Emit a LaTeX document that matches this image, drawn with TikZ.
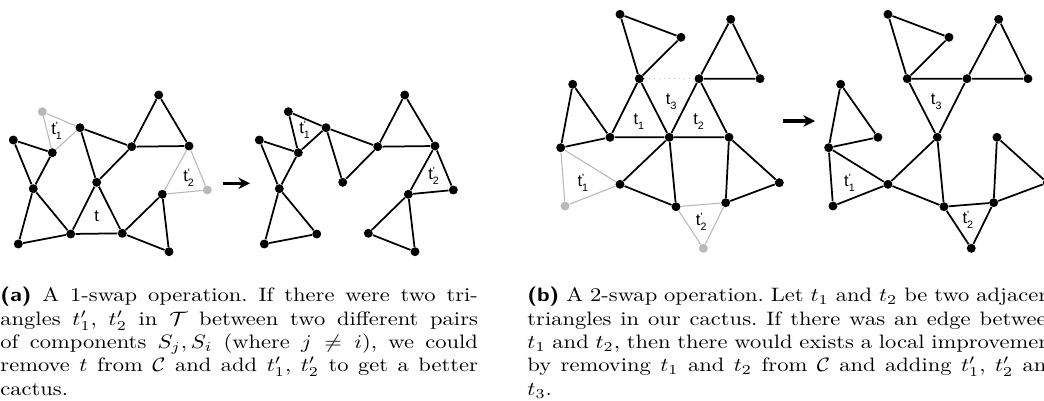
\documentclass[tikz,border=0pt]{standalone}
\usepackage{fontspec}
\newfontfamily\labfont{Liberation Sans}
\usetikzlibrary{arrows.meta}
\tikzset{
  dot/.style={circle, fill=black, inner sep=0pt, minimum size=4.6pt},
  gdot/.style={dot, fill=gray!55},
  edge/.style={line width=0.9pt},
  gedge/.style={line width=0.55pt, gray!55},
  lbl/.style={font=\labfont\fontsize{8.5}{10}\selectfont, inner sep=0pt},
  swap/.style={-{Stealth[length=6pt,width=6pt]}, line width=1.6pt},
  capt/.style={anchor=north west, inner sep=0pt, align=justify, xscale=1.16, transform shape}
}
\newcommand{\tlab}[2]{t$^{\mbox{\labfont\fontsize{5.5}{6}\selectfont #2}}_{\mbox{\labfont\fontsize{5.5}{6}\selectfont #1}}$}
\begin{document}
\begin{tikzpicture}[x=0.515pt, y=-0.515pt]
  \useasboundingbox (0,0) rectangle (1044,400);
  \clip (0,0) rectangle (1044,400);

  % (a) cactus before the 1-swap
  \node[dot] (a1) at (80,127.7) {};   \node[dot] (a2) at (13.3,140) {};
  \node[dot] (a3) at (52.3,152.7) {}; \node[dot] (a4) at (131.7,146.7) {};
  \node[dot] (a5) at (158.7,95) {};   \node[dot] (a6) at (189,146) {};
  \node[dot] (a7) at (33.3,188.7) {}; \node[dot] (a8) at (96.7,182.3) {};
  \node[dot] (a9) at (162.3,194.3) {};\node[dot] (a10) at (70.7,234) {};
  \node[dot] (a11) at (122.3,233.3) {};\node[dot] (a12) at (18.3,244) {};
  \node[dot] (a13) at (169,251.7) {};
  \node[gdot] (ag1) at (42.3,111.7) {};\node[gdot] (ag2) at (207.3,190) {};
  \draw[edge] (a2) -- (a3) -- (a7) -- (a2);
  \draw[edge] (a7) -- (a12) -- (a10) -- (a7);
  \draw[edge] (a1) -- (a4) -- (a8) -- (a1);
  \draw[edge] (a8) -- (a10) -- (a11) -- (a8);
  \draw[edge] (a4) -- (a5) -- (a6) -- (a4);
  \draw[edge] (a11) -- (a9) -- (a13) -- (a11);
  \draw[gedge] (ag1) -- (a1) -- (a3) -- (ag1);
  \draw[gedge] (a6) -- (a9) -- (ag2) -- (a6);
  \node[lbl] (ta1) at (57,131) {\tlab{1}{'}};
  \node[lbl] (ta2) at (189,178) {\tlab{2}{'}};
  \node[lbl] (ta) at (96.7,216.7) {t};

  \coordinate (s1) at (223,183.3);
  \coordinate (e1) at (250,183.3);
  \draw[swap] (s1) -- (e1);

  % (a) cactus after the 1-swap
  \begin{scope}[xshift=126.7pt]
    \node[dot] (b1) at (80,127.7) {};   \node[dot] (b2) at (13.3,140) {};
    \node[dot] (b3) at (52.3,152.7) {}; \node[dot] (b4) at (131.7,146.7) {};
    \node[dot] (b5) at (158.7,95) {};   \node[dot] (b6) at (189,146) {};
    \node[dot] (b7) at (33.3,188.7) {}; \node[dot] (b8) at (96.7,182.3) {};
    \node[dot] (b9) at (162.3,194.3) {};\node[dot] (b10) at (70.7,234) {};
    \node[dot] (b11) at (122.3,233.3) {};\node[dot] (b12) at (18.3,244) {};
    \node[dot] (b13) at (169,251.7) {};
    \node[dot] (bg1) at (42.3,111.7) {};\node[dot] (bg2) at (207.3,190) {};
    \draw[edge] (b2) -- (b3) -- (b7) -- (b2);
    \draw[edge] (b7) -- (b12) -- (b10) -- (b7);
    \draw[edge] (b1) -- (b4) -- (b8) -- (b1);
    \draw[edge] (b4) -- (b5) -- (b6) -- (b4);
    \draw[edge] (b11) -- (b9) -- (b13) -- (b11);
    \draw[edge] (bg1) -- (b1) -- (b3) -- (bg1);
    \draw[edge] (b6) -- (b9) -- (bg2) -- (b6);
    \node[lbl] (tb1) at (59,130) {\tlab{1}{'}};
    \node[lbl] (tb2) at (188,176) {\tlab{2}{'}};
  \end{scope}

  % (b) cactus before the 2-swap
  \node[dot] (c1) at (620,14.3) {};   \node[dot] (c2) at (681,37.3) {};
  \node[dot] (c3) at (730.7,19.3) {}; \node[dot] (c4) at (639.3,78.7) {};
  \node[dot] (c5) at (699,78.7) {};   \node[dot] (c6) at (760,78.7) {};
  \node[dot] (c7) at (572.7,84.3) {}; \node[dot] (c8) at (610,137.3) {};
  \node[dot] (c9) at (669.3,137.3) {};\node[dot] (c10) at (729,137.3) {};
  \node[dot] (c11) at (560.7,147.7) {};\node[dot] (c12) at (620,184.3) {};
  \node[dot] (c13) at (779.3,182.7) {};\node[dot] (c14) at (676,206.7) {};
  \node[dot] (c15) at (725.7,202.7) {};
  \node[gdot] (cg1) at (565,206) {};  \node[gdot] (cg2) at (703.3,248.3) {};
  \draw[edge] (c1) -- (c2) -- (c4) -- (c1);
  \draw[edge] (c3) -- (c5) -- (c6) -- (c3);
  \draw[edge] (c7) -- (c11) -- (c8) -- (c7);
  \draw[edge] (c4) -- (c8) -- (c9) -- (c4);
  \draw[edge] (c5) -- (c9) -- (c10) -- (c5);
  \draw[edge] (c9) -- (c12) -- (c14) -- (c9);
  \draw[edge] (c10) -- (c15) -- (c13) -- (c10);
  \draw[gedge] (c11) -- (cg1) -- (c12) -- (c11);
  \draw[gedge] (c14) -- (c15) -- (cg2) -- (c14);
  \draw[gedge, dotted] (c4) -- (c5);
  \node[lbl] (tc3) at (671.7,101.7) {\tlab{3}{}};
  \node[lbl] (tc1) at (639.3,121.7) {\tlab{1}{}};
  \node[lbl] (tc2) at (699,121.7) {\tlab{2}{}};
  \node[lbl] (tc1p) at (583.3,182.7) {\tlab{1}{'}};
  \node[lbl] (tc2p) at (701.7,221.7) {\tlab{2}{'}};

  \coordinate (s2) at (783,121);
  \coordinate (e2) at (815,121);
  \draw[swap] (s2) -- (e2);

  % (b) cactus after the 2-swap
  \begin{scope}[xshift=138pt]
    \node[dot] (d1) at (620,14.3) {};   \node[dot] (d2) at (681,37.3) {};
    \node[dot] (d3) at (730.7,19.3) {}; \node[dot] (d4) at (639.3,78.7) {};
    \node[dot] (d5) at (699,78.7) {};   \node[dot] (d6) at (760,78.7) {};
    \node[dot] (d7) at (572.7,84.3) {}; \node[dot] (d8) at (610,137.3) {};
    \node[dot] (d9) at (669.3,137.3) {};\node[dot] (d10) at (729,137.3) {};
    \node[dot] (d11) at (560.7,147.7) {};\node[dot] (d12) at (620,184.3) {};
    \node[dot] (d13) at (779.3,182.7) {};\node[dot] (d14) at (676,206.7) {};
    \node[dot] (d15) at (725.7,202.7) {};
    \node[dot] (dg1) at (565,206) {};   \node[dot] (dg2) at (703.3,248.3) {};
    \draw[edge] (d1) -- (d2) -- (d4) -- (d1);
    \draw[edge] (d3) -- (d5) -- (d6) -- (d3);
    \draw[edge] (d4) -- (d5) -- (d9) -- (d4);
    \draw[edge] (d7) -- (d11) -- (d8) -- (d7);
    \draw[edge] (d11) -- (dg1) -- (d12) -- (d11);
    \draw[edge] (d9) -- (d12) -- (d14) -- (d9);
    \draw[edge] (d14) -- (d15) -- (dg2) -- (d14);
    \draw[edge] (d10) -- (d15) -- (d13) -- (d10);
    \node[lbl] (td3) at (668.7,101.7) {\tlab{3}{}};
    \node[lbl] (td1p) at (582,182.7) {\tlab{1}{'}};
    \node[lbl] (td2p) at (700.3,220) {\tlab{2}{'}};
  \end{scope}

  % captions
  \node[capt, text width=212pt] (capa) at (0,287) {\frenchspacing{\sffamily\bfseries (a)} A 1-swap operation. If there were two tri-\linebreak angles $t'_1$, $t'_2$ in $\mathcal{T}$ between two different pairs\linebreak of components $S_j, S_i$ (where $j \neq i$), we could\linebreak remove $t$ from $\mathcal{C}$ and add $t'_1$, $t'_2$ to get a better\linebreak cactus.};
  \node[capt, text width=236pt] (capb) at (527,287) {\frenchspacing{\sffamily\bfseries (b)} A 2-swap operation. Let $t_1$ and $t_2$ be two adjacent\linebreak triangles in our cactus. If there was an edge between\linebreak $t_1$ and $t_2$, then there would exists a local improvement\linebreak by removing $t_1$ and $t_2$ from $\mathcal{C}$ and adding $t'_1$, $t'_2$ and\linebreak $t_3$.};
\end{tikzpicture}
\end{document}
